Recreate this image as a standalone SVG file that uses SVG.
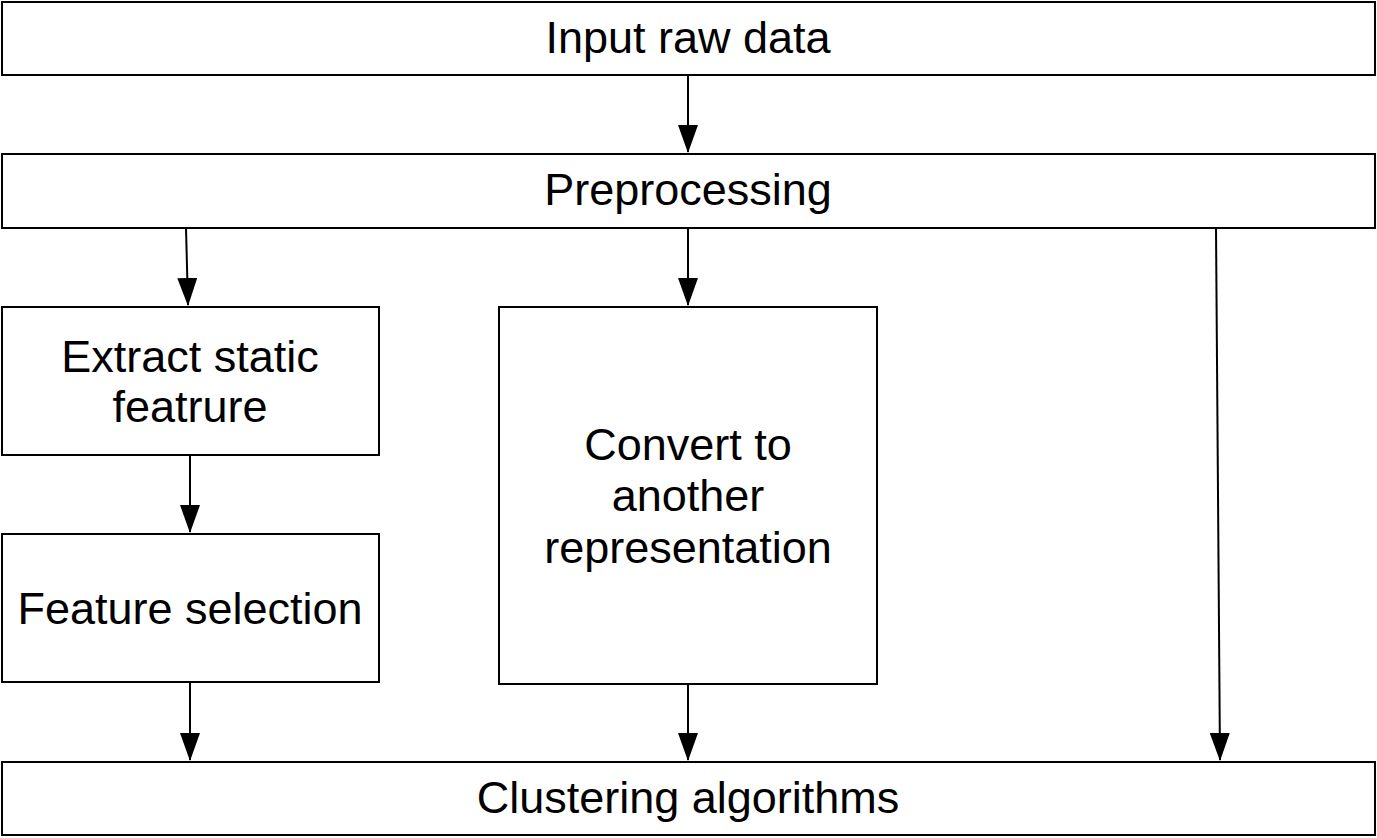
<svg xmlns="http://www.w3.org/2000/svg" width="1377" height="838" viewBox="0 0 1377 838">
<style>
.box{fill:#fff;stroke:#000;stroke-width:2}
.lbl{font-family:"Liberation Sans",Arial,sans-serif;font-size:45px;fill:#000;text-anchor:middle}
.edge{stroke:#000;stroke-width:2;fill:none}
</style>
<defs>
<marker id="arr" markerUnits="userSpaceOnUse" markerWidth="28" markerHeight="20" refX="27" refY="10" viewBox="0 0 28 20" orient="auto">
<path d="M0,0 L28,10 L0,20 Z" fill="#000"/>
</marker>
</defs>
<rect width="1377" height="838" fill="#fff"/>
<g id="connectors">
<line class="edge" x1="688" y1="75" x2="688" y2="152" marker-end="url(#arr)"/>
<line class="edge" x1="186" y1="228" x2="188" y2="305" marker-end="url(#arr)"/>
<line class="edge" x1="688" y1="228" x2="688" y2="305" marker-end="url(#arr)"/>
<line class="edge" x1="1216" y1="228" x2="1220" y2="760" marker-end="url(#arr)"/>
<line class="edge" x1="190" y1="455" x2="190" y2="532" marker-end="url(#arr)"/>
<line class="edge" x1="190" y1="682" x2="190" y2="760" marker-end="url(#arr)"/>
<line class="edge" x1="688" y1="684" x2="688" y2="760" marker-end="url(#arr)"/>
</g>
<g id="input">
<rect class="box" x="2" y="2" width="1373" height="73"/>
<text class="lbl" x="688" y="53">Input raw data</text>
</g>
<g id="preprocessing">
<rect class="box" x="2" y="154" width="1373" height="74"/>
<text class="lbl" x="688" y="205">Preprocessing</text>
</g>
<g id="extract">
<rect class="box" x="2" y="307" width="377" height="148"/>
<text class="lbl" x="190" y="372">Extract static</text>
<text class="lbl" x="190" y="422">featrure</text>
</g>
<g id="selection">
<rect class="box" x="2" y="534" width="377" height="148"/>
<text class="lbl" x="190" y="624">Feature selection</text>
</g>
<g id="convert">
<rect class="box" x="499" y="307" width="378" height="377"/>
<text class="lbl" x="688" y="460">Convert to</text>
<text class="lbl" x="688" y="511">another</text>
<text class="lbl" x="688" y="563">representation</text>
</g>
<g id="clustering">
<rect class="box" x="2" y="762" width="1373" height="73"/>
<text class="lbl" x="688" y="813">Clustering algorithms</text>
</g>
</svg>
